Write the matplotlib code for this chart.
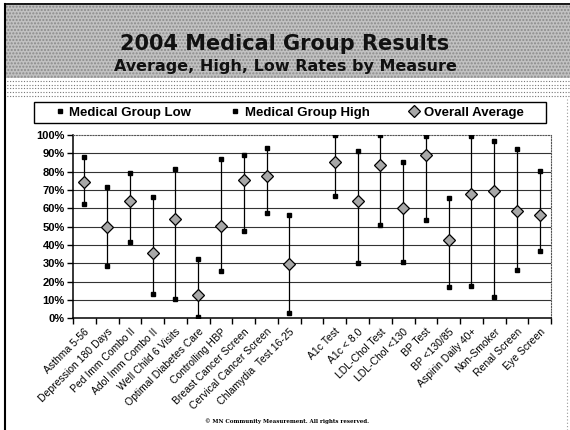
import matplotlib
matplotlib.use('Agg')
import matplotlib.pyplot as plt
from matplotlib.patches import Rectangle
from matplotlib.lines import Line2D
import numpy as np

# measures (empty slot between the two groups)
measures = ['Asthma 5-56', 'Depression 180 Days', 'Ped Imm Combo II', 'Adol Imm Combo II',
            'Well Child 6 Visits', 'Optimal Diabetes Care', 'Controlling HBP',
            'Breast Cancer Screen', 'Cervical Cancer Screen', 'Chlamydia  Test 16-25', '',
            'A1c Test', 'A1c < 8.0', 'LDL-Chol Test', 'LDL-Chol <130', 'BP Test',
            'BP <130/85', 'Aspirin Daily 40+', 'Non-Smoker', 'Renal Screen', 'Eye Screen']
low = [62.4, 28.3, 41.8, 13.1, 10.6, 0.5, 25.9, 47.4, 57.5, 2.9, np.nan,
       66.8, 30.3, 50.9, 30.5, 53.5, 16.8, 17.7, 11.5, 26.5, 36.9]
high = [87.8, 71.5, 79.0, 66.0, 81.6, 32.1, 86.9, 88.9, 92.7, 56.6, np.nan,
        100.0, 91.4, 100.0, 85.4, 99.6, 65.5, 99.6, 96.9, 92.2, 80.5]
avg = [74.1, 50.0, 64.2, 35.4, 54.0, 12.4, 50.4, 75.7, 77.6, 29.7, np.nan,
       85.4, 64.2, 83.9, 60.4, 89.0, 42.9, 68.0, 69.7, 58.6, 56.2]

x = np.arange(len(measures))
low = np.array(low)
high = np.array(high)
avg = np.array(avg)

fig = plt.figure(figsize=(5.7, 4.3), dpi=100)

# header band
fig.patches.append(Rectangle((0.007, 0.819), 0.993, 0.175, transform=fig.transFigure,
                             facecolor='#c2c2c2', edgecolor='#8a8a8a', hatch='.....',
                             linewidth=0, zorder=0))
for yy in [0.812, 0.803, 0.795, 0.786, 0.777]:
    fig.lines.append(Line2D([0.007, 1.0], [yy, yy], transform=fig.transFigure,
                            color='#777777', linestyle=(0, (1, 1.5)), linewidth=0.8))
fig.lines.append(Line2D([0.008, 0.008], [0.0, 0.99], transform=fig.transFigure,
                        color='black', linewidth=1.5))
fig.lines.append(Line2D([0.008, 1.0], [0.99, 0.99], transform=fig.transFigure,
                        color='black', linewidth=1.2))
fig.lines.append(Line2D([0.995, 0.995], [0.0, 0.77], transform=fig.transFigure,
                        color='#999999', linestyle=(0, (1, 2)), linewidth=0.8))

fig.text(0.5, 0.898, '2004 Medical Group Results', ha='center', va='center',
         fontsize=15, fontweight='bold', family='DejaVu Sans', color='#111111')
fig.text(0.5, 0.845, 'Average, High, Low Rates by Measure', ha='center', va='center',
         fontsize=11.5, fontweight='bold', family='DejaVu Sans', color='#111111')

ax = fig.add_axes([0.128, 0.26, 0.839, 0.426])

ax.vlines(x, low, high, color='black', linewidth=0.9, zorder=2)
ax.plot(x, low, linestyle='none', marker='s', markersize=3.5, color='black',
        label='Medical Group Low', zorder=3)
ax.plot(x, high, linestyle='none', marker='s', markersize=3.5, color='black',
        label='Medical Group High', zorder=3)
ax.plot(x, avg, linestyle='none', marker='D', markersize=6, markerfacecolor='#a8a8a8',
        markeredgecolor='black', markeredgewidth=0.9, label='Overall Average', zorder=4)

ax.set_xlim(-0.5, len(measures) - 0.5)
ax.set_ylim(0, 100)
ax.set_yticks(np.arange(0, 101, 10))
ax.set_yticklabels(['{}%'.format(v) for v in range(0, 101, 10)],
                   fontsize=8, fontweight='bold', family='Liberation Sans')
ax.set_xticks(x)
ax.set_xticklabels(measures, rotation=45, ha='right', rotation_mode='anchor',
                   fontsize=7.5, family='Liberation Sans')
ax.set_xticks(np.arange(-0.5, len(measures)), minor=True)
ax.tick_params(axis='x', which='major', length=0, pad=6)
ax.tick_params(axis='x', which='minor', length=4, direction='out', width=1)
ax.tick_params(axis='y', length=4, direction='out', width=1, pad=2)

for v in range(10, 100, 10):
    ax.axhline(v, color='#333333', linewidth=0.8, zorder=1)
ax.spines['top'].set_linestyle((0, (1, 1.5)))
ax.spines['top'].set_color('#555555')
ax.spines['right'].set_linestyle((0, (1, 1.5)))
ax.spines['right'].set_color('#555555')
ax.spines['left'].set_linewidth(1.1)
ax.spines['bottom'].set_linewidth(1.1)

# legend box
fig.patches.append(Rectangle((0.06, 0.714), 0.898, 0.049, transform=fig.transFigure,
                             facecolor='white', edgecolor='black', linewidth=1.0))
leg = fig.legend(loc='center', bbox_to_anchor=(0.508, 0.7385), ncol=3, frameon=False,
                 prop={'family': 'Liberation Sans', 'weight': 'bold', 'size': 9.5},
                 handlelength=0.7, handletextpad=0.4, columnspacing=3.0)

fig.text(0.503, 0.02, '\u00a9 MN Community Measurement. All rights reserved.',
         ha='center', va='center', fontsize=4, fontweight='bold', family='DejaVu Serif')

fig.savefig('out.png', dpi=100)
